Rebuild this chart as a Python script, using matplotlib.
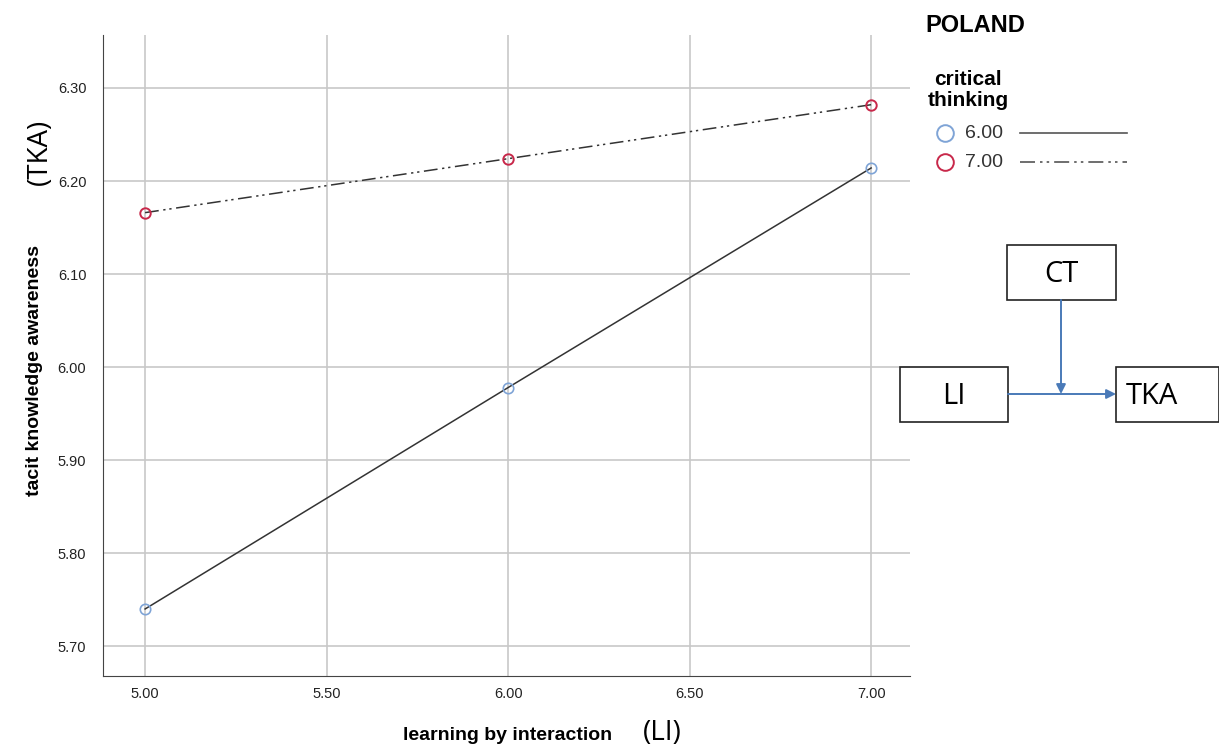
import matplotlib.pyplot as plt
from matplotlib.patches import Rectangle
import numpy as np

# Datos
li = [5.00, 6.00, 7.00]
ct_niveles = ["6.00", "7.00"]
tka_ct6 = [5.740, 5.978, 6.214]
tka_ct7 = [6.166, 6.224, 6.282]

x_ticks = [5.00, 5.50, 6.00, 6.50, 7.00]
y_ticks = [5.70, 5.80, 5.90, 6.00, 6.10, 6.20, 6.30]

azul = '#7fa4d6'
rojo = '#c8284a'
gris = '#c8c8c8'
dashdot = (0, (9, 3, 1.5, 2.5, 1.5, 3))

plt.rcParams['font.family'] = ['Liberation Sans', 'DejaVu Sans']

fig = plt.figure(figsize=(12.19, 7.48), dpi=100)
ax = fig.add_axes([0.0845, 0.0963, 0.662, 0.857])

# Lineas y marcadores
ax.plot(li, tka_ct6, color='#333333', lw=1.1, zorder=3)
ax.plot(li, tka_ct7, color='#333333', lw=1.1, linestyle=dashdot, zorder=3)
ax.plot(li, tka_ct6, 'o', ms=7.5, mfc='none', mec=azul, mew=1.2, zorder=4)
ax.plot(li, tka_ct7, 'o', ms=7.5, mfc='none', mec=rojo, mew=1.4, zorder=4)

ax.set_xlim(4.884, 7.107)
ax.set_ylim(5.668, 6.357)
ax.set_xticks(x_ticks)
ax.set_yticks(y_ticks)
ax.set_xticklabels([f"{v:.2f}" for v in x_ticks], fontsize=10.5, color='#222222')
ax.set_yticklabels([f"{v:.2f}" for v in y_ticks], fontsize=10.5, color='#222222')
ax.grid(True, color=gris, lw=1.2, zorder=0)
ax.set_axisbelow(True)
ax.tick_params(axis='x', length=0, pad=8)
ax.tick_params(axis='y', length=0, pad=12)

ax.spines['top'].set_visible(False)
ax.spines['right'].set_visible(False)
ax.spines['left'].set_color('#444444')
ax.spines['bottom'].set_color('#444444')

# Capa superpuesta en pixeles
ov = fig.add_axes([0, 0, 1, 1], facecolor='none')
ov.set_xlim(0, 1219)
ov.set_ylim(748, 0)
ov.axis('off')

# Titulos de ejes
ov.text(508, 736, "learning by interaction", fontsize=14, fontweight='bold', ha='center', va='center')
ov.text(35, 370, "tacit knowledge awareness", fontsize=14, fontweight='bold', ha='center',
        va='center', rotation=90)
ov.text(662, 733, "(LI)", fontsize=20, ha='center', va='center', family=['Open Sans', 'DejaVu Sans'])
ov.text(40, 152, "(TKA)", fontsize=20, ha='center', va='center', rotation=90,
        family=['Open Sans', 'DejaVu Sans'])

ov.text(975, 25, "POLAND", fontsize=17, fontweight='bold', ha='center', va='center')

# Leyenda
ov.text(968, 90, "critical\nthinking", fontsize=15, fontweight='bold', ha='center', va='center',
        linespacing=1.15)
colores = [azul, rojo]
estilos = ['-', dashdot]
for i, (nivel, c, st) in enumerate(zip(ct_niveles, colores, estilos)):
    yy = 133 + i * 29
    ov.plot([945], [yy], 'o', ms=12, mfc='none', mec=c, mew=1.4)
    ov.text(965, yy, nivel, fontsize=14, ha='left', va='center', color='#333333')
    ov.plot([1020, 1127], [yy, yy], color='#555555', lw=1.2, linestyle=st)

# Diagrama
cajas = [("CT", 1007, 245, 109, 55), ("LI", 900, 367, 108, 55), ("TKA", 1116, 367, 103, 55)]
for nombre, x0, y0, w, h in cajas:
    ov.add_patch(Rectangle((x0, y0), w, h, fill=False, ec='#222222', lw=1.2))
    if nombre == "TKA":
        ov.text(x0 + 10, y0 + h / 2 + 2, nombre, fontsize=21, ha='left', va='center',
                family=['Open Sans', 'DejaVu Sans'])
    else:
        ov.text(x0 + w / 2, y0 + h / 2 + 2, nombre, fontsize=21, ha='center', va='center',
                family=['Open Sans', 'DejaVu Sans'])

flecha = dict(arrowstyle='-|>', color='#4a7ab8', lw=1.4, mutation_scale=14, shrinkA=0, shrinkB=0)
ov.annotate("", xy=(1116, 394), xytext=(1008, 394), arrowprops=flecha)
ov.annotate("", xy=(1061, 394), xytext=(1061, 300), arrowprops=flecha)

fig.savefig("out.png", dpi=100)
